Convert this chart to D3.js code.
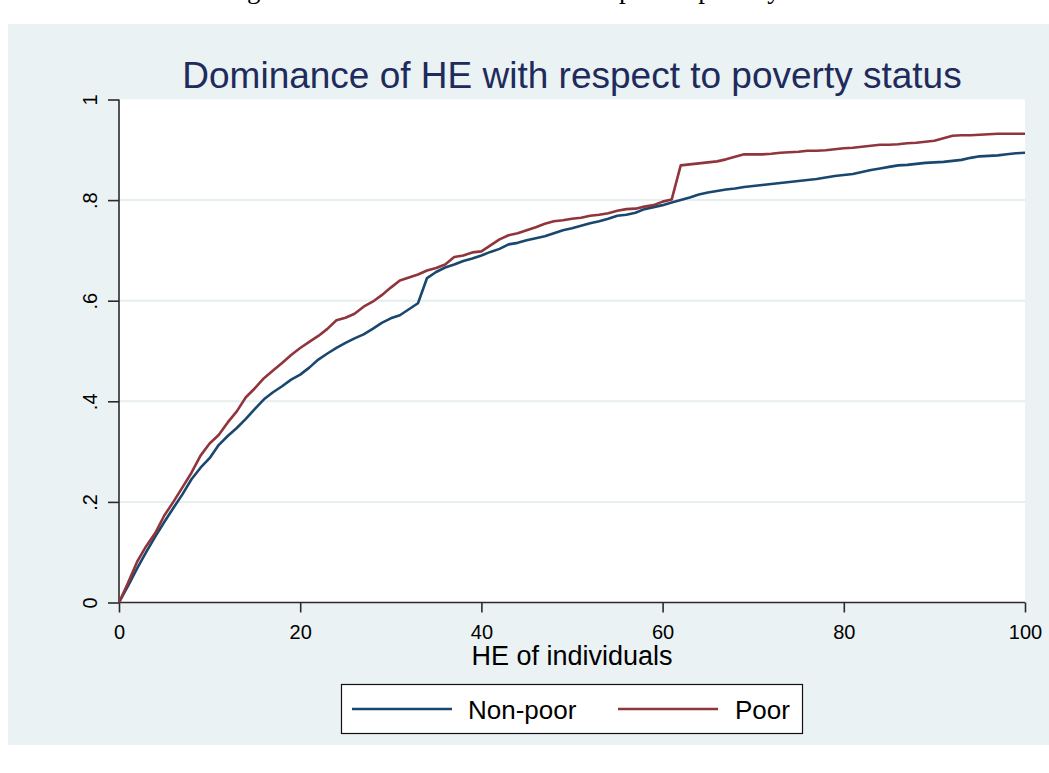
<!DOCTYPE html>
<html>
<head>
<meta charset="utf-8">
<script src="https://cdn.jsdelivr.net/npm/d3@7"></script>
<style>
  html, body { margin: 0; padding: 0; background: #ffffff; }
  svg { display: block; }
</style>
</head>
<body>
<svg id="chart" width="1049" height="773"></svg>
<script>
// HE score of individuals (x) and cumulative share for each poverty group
const heLevels = [0,1,2,3,4,5,6,7,8,9,10,11,12,13,14,15,16,17,18,19,20,21,22,23,24,25,26,27,28,29,30,
  31,32,33,34,35,36,37,38,39,40,41,42,43,44,45,46,47,48,49,50,51,52,53,54,55,56,57,58,59,60,
  61,62,63,64,65,66,67,68,69,70,71,72,73,74,75,76,77,78,79,80,81,82,83,84,85,86,87,88,89,90,
  91,92,93,94,95,96,97,98,99,100];

const nonPoor = [0,0.033,0.068,0.100,0.131,0.160,0.188,0.215,0.245,0.268,0.287,
  0.313,0.331,0.347,0.365,0.385,0.404,0.418,0.430,0.443,0.453,
  0.467,0.483,0.495,0.506,0.516,0.525,0.533,0.544,0.556,0.565,
  0.571,0.583,0.595,0.645,0.657,0.666,0.672,0.679,0.684,0.690,
  0.697,0.703,0.712,0.715,0.720,0.724,0.728,0.734,0.740,0.744,
  0.749,0.754,0.758,0.763,0.769,0.771,0.775,0.782,0.786,0.790,
  0.795,0.800,0.805,0.811,0.815,0.818,0.821,0.823,0.826,0.828,
  0.830,0.832,0.834,0.836,0.838,0.840,0.842,0.845,0.848,0.850,
  0.852,0.856,0.860,0.863,0.866,0.869,0.870,0.872,0.874,0.875,
  0.876,0.878,0.880,0.884,0.887,0.888,0.889,0.891,0.893,0.894];

const poor = [0,0.039,0.081,0.112,0.138,0.173,0.200,0.229,0.258,0.292,0.316,
  0.333,0.358,0.380,0.408,0.426,0.446,0.461,0.476,0.492,0.506,
  0.518,0.530,0.544,0.561,0.566,0.574,0.588,0.598,0.611,0.626,
  0.640,0.646,0.652,0.660,0.665,0.672,0.687,0.690,0.696,0.698,
  0.710,0.722,0.730,0.734,0.740,0.746,0.753,0.758,0.760,0.763,
  0.765,0.769,0.771,0.774,0.779,0.782,0.783,0.787,0.790,0.797,
  0.801,0.869,0.871,0.873,0.875,0.877,0.881,0.886,0.891,0.891,
  0.891,0.892,0.894,0.895,0.896,0.898,0.898,0.899,0.901,0.903,
  0.904,0.906,0.908,0.910,0.910,0.911,0.913,0.914,0.916,0.918,
  0.923,0.928,0.929,0.929,0.930,0.931,0.932,0.932,0.932,0.932];

const xTicks = [0, 20, 40, 60, 80, 100];
const yTicks = [0, 0.2, 0.4, 0.6, 0.8, 1];
const yTickLabels = ["0", ".2", ".4", ".6", ".8", "1"];
const seriesNames = ["Non-poor", "Poor"];
const seriesColors = ["#1a476f", "#90353b"];

const svg = d3.select("#chart");

// Caption line of the surrounding document, running off the page top
const caption = svg.append("text")
  .attr("y", -2.5)
  .attr("font-family", "'Liberation Serif', 'Times New Roman', serif")
  .attr("font-size", 27)
  .attr("fill", "#000")
  .text("Figure 5: Dominance of HE with respect to poverty status");
const gStart = caption.node().getStartPositionOfChar(2).x;
caption.attr("x", 247 - gStart);

// Graph region background
svg.append("rect")
  .attr("x", 8).attr("y", 24)
  .attr("width", 1041).attr("height", 721)
  .attr("fill", "#eaf2f3");

const x = d3.scaleLinear().domain([0, 100]).range([119, 1025]);
const y = d3.scaleLinear().domain([0, 1]).range([602.5, 99.5]);

// Plot region
svg.append("rect")
  .attr("x", x(0)).attr("y", y(1))
  .attr("width", x(100) - x(0)).attr("height", y(0) - y(1))
  .attr("fill", "#ffffff");

// Horizontal grid lines
svg.append("g")
  .selectAll("line")
  .data(yTicks.filter(t => t > 0 && t < 1))
  .join("line")
  .attr("x1", x(0)).attr("x2", x(100))
  .attr("y1", d => y(d)).attr("y2", d => y(d))
  .attr("stroke", "#e6eef0")
  .attr("stroke-width", 2);

// Axes
const fontSans = "Arial, 'Liberation Sans', Helvetica, sans-serif";

const xAxis = svg.append("g")
  .attr("transform", `translate(0,${y(0)})`)
  .call(d3.axisBottom(x).tickValues(xTicks).tickSize(10).tickPadding(8)
    .tickFormat(d3.format("d")));
xAxis.select(".domain").attr("stroke", "#2b2b2b").attr("stroke-width", 1.6)
  .attr("d", `M${x(0)},0H${x(100)}`);
xAxis.selectAll(".tick line").attr("stroke", "#2b2b2b").attr("stroke-width", 1.6);
xAxis.selectAll(".tick text")
  .attr("font-family", fontSans).attr("font-size", 20).attr("fill", "#000")
  .attr("dy", null).attr("y", 36);

const yAxis = svg.append("g")
  .attr("transform", `translate(${x(0)},0)`)
  .call(d3.axisLeft(y).tickValues(yTicks).tickSize(11)
    .tickFormat((d, i) => yTickLabels[i]));
yAxis.select(".domain").attr("stroke", "#2b2b2b").attr("stroke-width", 1.6)
  .attr("d", `M0,${y(0)}V${y(1)}`);
yAxis.selectAll(".tick line").attr("stroke", "#2b2b2b").attr("stroke-width", 1.6);
yAxis.selectAll(".tick text")
  .attr("font-family", fontSans).attr("font-size", 20).attr("fill", "#000")
  .attr("x", null).attr("dy", null)
  .attr("text-anchor", "middle")
  .attr("transform", "translate(-22,0) rotate(-90)");

// Curves
const line = d3.line()
  .x((d, i) => x(heLevels[i]))
  .y(d => y(d));

[nonPoor, poor].forEach((series, k) => {
  svg.append("path")
    .datum(series)
    .attr("fill", "none")
    .attr("stroke", seriesColors[k])
    .attr("stroke-width", 2.6)
    .attr("stroke-linejoin", "round")
    .attr("d", line);
});

// Title
svg.append("text")
  .attr("x", (x(0) + x(100)) / 2).attr("y", 88)
  .attr("text-anchor", "middle")
  .attr("font-family", fontSans).attr("font-size", 37)
  .attr("fill", "#1e2b5c")
  .text("Dominance of HE with respect to poverty status");

// X axis title
svg.append("text")
  .attr("x", (x(0) + x(100)) / 2).attr("y", 665)
  .attr("text-anchor", "middle")
  .attr("font-family", fontSans).attr("font-size", 27)
  .attr("fill", "#000")
  .text("HE of individuals");

// Legend
const legend = svg.append("g");
legend.append("rect")
  .attr("x", 341.5).attr("y", 684.5)
  .attr("width", 461).attr("height", 49)
  .attr("fill", "#ffffff")
  .attr("stroke", "#111").attr("stroke-width", 1.2);

const legendKeyX = [352, 618];
const legendTextX = [468, 735];
seriesNames.forEach((name, k) => {
  legend.append("line")
    .attr("x1", legendKeyX[k]).attr("x2", legendKeyX[k] + 100)
    .attr("y1", 709).attr("y2", 709)
    .attr("stroke", seriesColors[k]).attr("stroke-width", 2.6);
  legend.append("text")
    .attr("x", legendTextX[k]).attr("y", 719)
    .attr("font-family", fontSans).attr("font-size", 26)
    .attr("fill", "#000")
    .text(name);
});
</script>
</body>
</html>
